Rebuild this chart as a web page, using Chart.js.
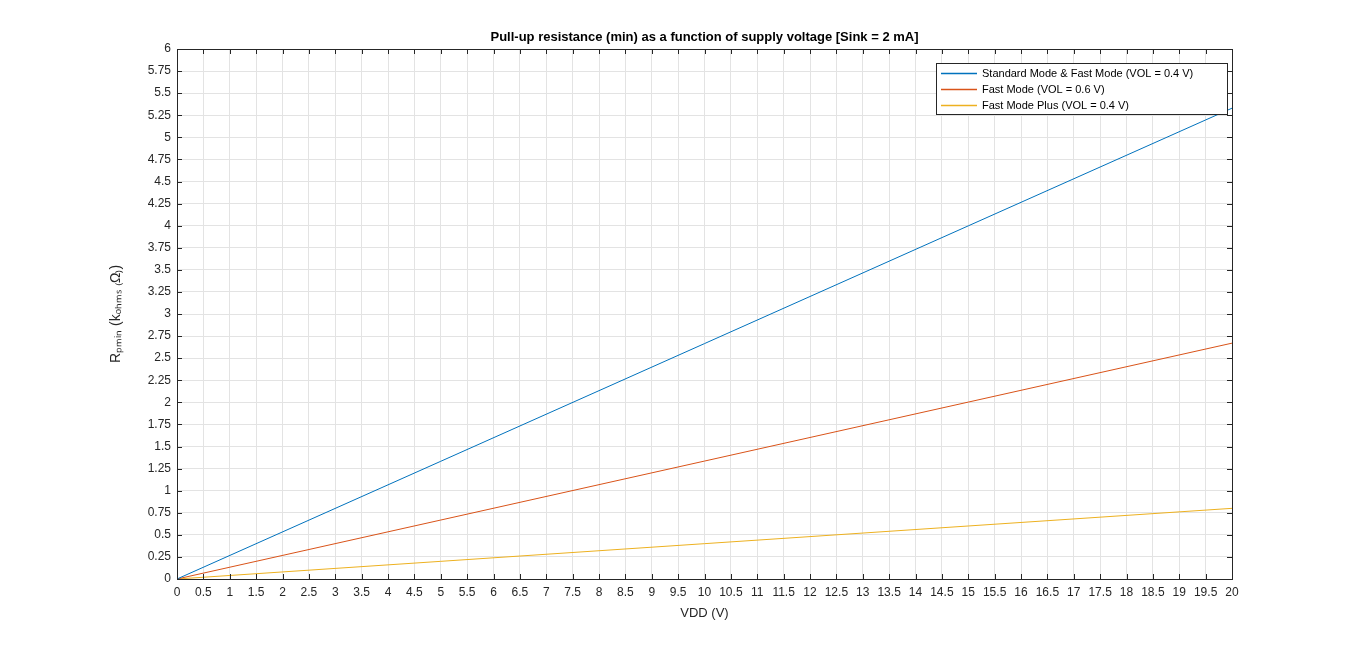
<!DOCTYPE html>
<html>
<head>
<meta charset="utf-8">
<script src="https://cdn.jsdelivr.net/npm/chart.js@4"></script>
<style>
  html, body { margin: 0; padding: 0; background: #fff; }
  #wrap { width: 1360px; height: 651px; }
</style>
</head>
<body>
<div id="wrap"><canvas id="chart" width="1360" height="651"></canvas></div>
<script>
// values
const vdd = [0, 20];
const stdFast = [0, 5.33];
const fastMode = [0, 2.67];
const fastPlus = [0, 0.8];
const seriesLabels = ["Standard Mode & Fast Mode (VOL = 0.4 V)", "Fast Mode (VOL = 0.6 V)", "Fast Mode Plus (VOL = 0.4 V)"];
const seriesColors = ["#0072BD", "#D95319", "#EDB120"];

const toPts = ys => vdd.map((x, i) => ({ x: x, y: ys[i] }));
const plainTick = v => String(Math.round(v * 100) / 100);

// box, title and legend drawn MATLAB-style
const frame = {
    id: "frame",
    afterDraw(chart) {
        const { ctx, chartArea: a } = chart;
        ctx.save();
        ctx.strokeStyle = "#262626";
        ctx.lineWidth = 1;
        ctx.strokeRect(a.left + 0.5, a.top + 0.5, a.right - a.left, a.bottom - a.top);

        // inward tick marks
        const xs = chart.scales.x, ys = chart.scales.y;
        ctx.beginPath();
        xs.ticks.forEach(t => {
            const px = Math.round(xs.getPixelForValue(t.value)) + 0.5;
            ctx.moveTo(px, a.bottom); ctx.lineTo(px, a.bottom - 5);
            ctx.moveTo(px, a.top); ctx.lineTo(px, a.top + 5);
        });
        ys.ticks.forEach(t => {
            const py = Math.round(ys.getPixelForValue(t.value)) + 0.5;
            ctx.moveTo(a.left, py); ctx.lineTo(a.left + 5, py);
            ctx.moveTo(a.right, py); ctx.lineTo(a.right - 5, py);
        });
        ctx.stroke();

        ctx.fillStyle = "#000";
        ctx.font = "bold 13px Arial, 'Liberation Sans', sans-serif";
        ctx.textAlign = "center";
        ctx.textBaseline = "middle";
        ctx.fillText("Pull-up resistance (min) as a function of supply voltage [Sink = 2 mA]", (a.left + a.right) / 2, 37);

        // legend
        const lx = 936, ly = 63, lw = 291, lh = 51;
        ctx.fillStyle = "#fff";
        ctx.fillRect(lx, ly, lw, lh);
        ctx.strokeStyle = "#262626";
        ctx.lineWidth = 1;
        ctx.strokeRect(lx + 0.5, ly + 0.5, lw, lh);
        ctx.font = "11px Arial, 'Liberation Sans', sans-serif";
        ctx.textAlign = "left";
        seriesLabels.forEach((lab, i) => {
            const y = ly + 10 + i * 16;
            ctx.strokeStyle = seriesColors[i];
            ctx.lineWidth = 1.3;
            ctx.beginPath();
            ctx.moveTo(lx + 5, y + 0.5); ctx.lineTo(lx + 41, y + 0.5);
            ctx.stroke();
            ctx.fillStyle = "#000";
            ctx.fillText(lab, lx + 46, y + 1);
        });
        ctx.restore();
    }
};

new Chart(document.getElementById("chart").getContext("2d"), {
    type: "line",
    data: {
        datasets: [
            { label: seriesLabels[0], data: toPts(stdFast), borderColor: seriesColors[0] },
            { label: seriesLabels[1], data: toPts(fastMode), borderColor: seriesColors[1] },
            { label: seriesLabels[2], data: toPts(fastPlus), borderColor: seriesColors[2] }
        ]
    },
    options: {
        responsive: false,
        animation: false,
        elements: { point: { radius: 0 }, line: { borderWidth: 1, tension: 0 } },
        layout: { padding: { left: 108, top: 49, right: 128, bottom: 30 } },
        plugins: { legend: { display: false }, tooltip: { enabled: false } },
        scales: {
            x: {
                type: "linear", min: 0, max: 20,
                ticks: { stepSize: 0.5, autoSkip: false, maxRotation: 0, color: "#262626", padding: 6,
                         callback: plainTick,
                         font: { size: 12, family: "Arial, 'Liberation Sans', sans-serif" } },
                grid: { color: "#e3e3e3", drawTicks: false },
                border: { display: false },
                title: { display: true, text: "VDD (V)", color: "#262626", padding: 0,
                         font: { size: 13, family: "Arial, 'Liberation Sans', sans-serif" } },
                afterFit: s => { s.height = 42; }
            },
            y: {
                min: 0, max: 6,
                ticks: { stepSize: 0.25, autoSkip: false, color: "#262626", padding: 6,
                         callback: plainTick,
                         font: { size: 12, family: "Arial, 'Liberation Sans', sans-serif" } },
                grid: { color: "#e3e3e3", drawTicks: false },
                border: { display: false },
                title: { display: true, text: "Rₚₘᵢₙ (kₒₕₘₛ ₍Ω₎)", color: "#262626", padding: 0,
                         font: { size: 14, family: "Arial, 'Liberation Sans', sans-serif" } },
                afterFit: s => { s.width = 69; }
            }
        }
    },
    plugins: [frame]
});
</script>
</body>
</html>
